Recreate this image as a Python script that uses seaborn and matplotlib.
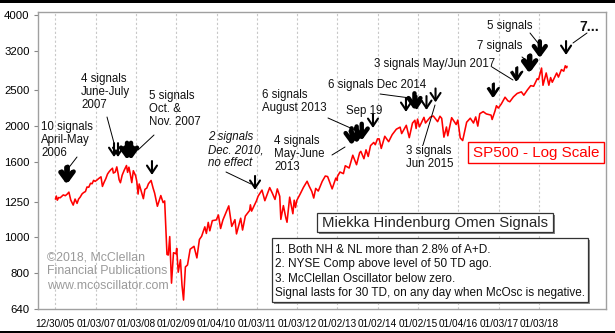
import numpy as np
import pandas as pd
import matplotlib
matplotlib.use("Agg")
import matplotlib.pyplot as plt
from matplotlib.lines import Line2D
from matplotlib.patches import Rectangle
import seaborn as sns

# ---------------- data ----------------
sp_dates = [
 "2006-01-03","2006-01-11","2006-01-20","2006-02-01","2006-02-15","2006-03-01","2006-03-15","2006-04-03","2006-04-21","2006-05-05","2006-05-22","2006-06-13","2006-06-30","2006-07-18","2006-08-01","2006-08-15","2006-09-01","2006-09-15","2006-10-02","2006-10-16","2006-11-01","2006-11-17","2006-12-01","2006-12-15","2006-12-29",
 "2007-01-16","2007-02-01","2007-02-20","2007-03-05","2007-03-20","2007-04-05","2007-04-20","2007-05-04","2007-05-18","2007-06-04","2007-06-12","2007-06-29","2007-07-13","2007-07-26","2007-08-03","2007-08-15","2007-08-31","2007-09-18","2007-10-09","2007-10-19","2007-10-31","2007-11-13","2007-11-26","2007-12-10","2007-12-31",
 "2008-01-10","2008-01-22","2008-02-01","2008-02-15","2008-03-10","2008-03-24","2008-04-10","2008-04-25","2008-05-19","2008-06-06","2008-06-20","2008-07-15","2008-08-01","2008-08-15","2008-09-05","2008-09-19","2008-10-10","2008-10-22","2008-11-04","2008-11-20","2008-12-08","2008-12-31",
 "2009-01-06","2009-01-20","2009-02-09","2009-02-23","2009-03-09","2009-03-26","2009-04-14","2009-05-08","2009-06-12","2009-07-08","2009-07-31","2009-08-20","2009-09-18","2009-10-02","2009-10-19","2009-11-02","2009-11-25","2009-12-31",
 "2010-01-19","2010-02-08","2010-03-01","2010-04-23","2010-05-20","2010-06-18","2010-07-02","2010-08-09","2010-08-26","2010-09-20","2010-10-29","2010-11-05","2010-11-16","2010-12-31",
 "2011-01-14","2011-02-18","2011-03-16","2011-04-29","2011-05-23","2011-06-16","2011-07-07","2011-07-29","2011-08-08","2011-08-31","2011-09-22","2011-10-03","2011-10-27","2011-11-25","2011-12-07","2011-12-19","2011-12-30",
 "2012-01-31","2012-02-29","2012-04-02","2012-04-20","2012-05-15","2012-06-01","2012-06-19","2012-07-12","2012-08-17","2012-09-14","2012-10-05","2012-11-15","2012-12-18","2012-12-31",
 "2013-01-02","2013-01-25","2013-02-25","2013-03-14","2013-04-18","2013-05-21","2013-06-24","2013-07-22","2013-08-02","2013-08-30","2013-09-18","2013-10-08","2013-10-29","2013-11-27","2013-12-11","2013-12-31",
 "2014-01-15","2014-02-03","2014-03-07","2014-04-11","2014-05-13","2014-06-20","2014-07-24","2014-08-07","2014-09-18","2014-10-15","2014-11-13","2014-12-05","2014-12-16","2014-12-29",
 "2015-01-15","2015-02-25","2015-03-11","2015-04-24","2015-05-21","2015-06-29","2015-07-20","2015-08-05","2015-08-25","2015-09-17","2015-09-29","2015-11-03","2015-12-14","2015-12-29",
 "2016-01-20","2016-02-11","2016-03-18","2016-04-20","2016-05-19","2016-06-08","2016-06-27","2016-07-15","2016-08-15","2016-09-12","2016-10-25","2016-11-04","2016-11-30","2016-12-13","2016-12-30",
 "2017-01-26","2017-03-01","2017-03-27","2017-04-13","2017-05-16","2017-06-19","2017-07-27","2017-08-18","2017-09-20","2017-10-20","2017-11-15","2017-12-18","2017-12-29",
 "2018-01-26","2018-02-08","2018-03-09","2018-04-02","2018-04-18","2018-05-03","2018-06-12","2018-06-28","2018-07-25","2018-08-15","2018-08-29","2018-09-10","2018-09-14",
]
sp_values = [
 1269,1294,1261,1282,1280,1292,1303,1297,1311,1326,1262,1223,1270,1236,1270,1285,1311,1322,1331,1369,1367,1401,1397,1427,1418,
 1431,1445,1459,1374,1410,1443,1484,1505,1522,1539,1493,1503,1552,1483,1433,1406,1474,1519,1565,1500,1549,1481,1407,1515,1468,
 1420,1310,1395,1349,1273,1349,1360,1397,1426,1360,1318,1214,1260,1298,1242,1255,899,896,1005,752,909,903,
 934,805,870,743,677,832,842,929,946,880,987,1007,1068,1025,1098,1042,1110,1115,
 1150,1057,1115,1217,1071,1117,1022,1127,1047,1142,1183,1225,1178,1258,
 1293,1343,1257,1364,1317,1267,1353,1292,1119,1219,1130,1099,1285,1159,1261,1205,1258,
 1312,1366,1419,1378,1331,1278,1357,1335,1418,1466,1461,1353,1447,1426,
 1462,1503,1488,1563,1541,1669,1573,1695,1710,1633,1726,1656,1772,1807,1782,1848,
 1848,1741,1878,1816,1897,1963,1988,1910,2011,1862,2039,2075,1972,2090,
 1992,2113,2040,2117,2131,2057,2128,2100,1868,1990,1884,2109,2021,2078,
 1859,1829,2050,2102,2040,2119,2001,2162,2190,2159,2143,2085,2199,2272,2239,
 2297,2396,2342,2329,2401,2453,2477,2426,2508,2575,2565,2690,2674,
 2873,2581,2787,2582,2708,2630,2786,2716,2846,2818,2914,2878,2905,
]

# signal arrows: date, price level at arrow tip, bold flag
signal_dates = ["2006-04-12","2006-04-24","2007-06-18","2007-07-24","2007-10-14","2007-11-19",
                "2008-05-27","2010-12-17","2013-05-10","2013-06-25","2013-08-10","2013-11-20",
                "2014-09-15","2014-12-01","2014-12-20","2015-03-20","2015-06-10",
                "2016-11-10","2016-11-20","2017-06-10","2017-06-20","2017-10-05","2017-10-15",
                "2018-01-10","2018-09-05"]
signal_levels = [1395,1400,1650,1650,1625,1625,
                 1476,1345,1779,1800,1830,1978,
                 2186,2213,2213,2213,2321,
                 2385,2395,2638,2650,2788,2800,3060,3118]
signal_bold = [1,1,0,0,1,1,
               0,0,1,1,1,0,
               0,1,0,0,0,
               0,0,0,0,1,1,1,0]

y_ticks = [640, 800, 1000, 1250, 1600, 2000, 2500, 3200, 4000]
x_tick_labels = ["12/30/05","01/03/07","01/03/08","01/02/09","01/04/10","01/03/11","01/03/12",
                 "01/02/13","01/02/14","01/02/15","01/04/16","01/03/17","01/03/18"]

# ---------------- figure ----------------
sns.set_style("white")
plt.rcParams["font.family"] = ["Liberation Sans", "DejaVu Sans"]

W, H = 615, 333
fig = plt.figure(figsize=(W / 100, H / 100), dpi=100)
ax = fig.add_axes([38 / W, 1 - 309 / H, (606 - 38) / W, (309 - 12) / H])

df = pd.DataFrame({"date": pd.to_datetime(sp_dates), "sp500": sp_values})
sns.lineplot(data=df, x="date", y="sp500", ax=ax, color="#ff0000", lw=1.15)

ax.set_yscale("log")
ax.set_ylim(640, 4075)
ax.set_yticks(y_ticks)
ax.set_yticklabels([str(v) for v in y_ticks])
ax.yaxis.set_minor_locator(matplotlib.ticker.NullLocator())

xt = pd.to_datetime(x_tick_labels, format="%m/%d/%y")
ax.set_xlim(pd.Timestamp("2005-07-29"), pd.Timestamp("2019-09-02"))
ax.set_xticks(xt)
ax.set_xticklabels(x_tick_labels)
ax.set_xlabel("")
ax.set_ylabel("")
ax.tick_params(axis="x", length=0, labelsize=7.2, pad=7, colors="black")
ax.tick_params(axis="y", length=3, width=0.8, color="#888888", labelsize=8.2, pad=3, left=True)
for lab in ax.get_yticklabels() + ax.get_xticklabels():
    lab.set_color("black")
for sp in ax.spines.values():
    sp.set_color("#a0a0a0")
    sp.set_linewidth(1.0)
ax.grid(False)
for d in xt:
    ax.axvline(d, color="#c8c8c8", lw=0.8, ls=(0, (2, 2)), zorder=0)

# arrows
for d, lv, b in zip(signal_dates, signal_levels, signal_bold):
    if b:
        props = dict(arrowstyle="->,head_length=0.45,head_width=0.33", lw=3.2, color="black",
                     shrinkA=0, shrinkB=0, mutation_scale=13)
        L = 12
    else:
        props = dict(arrowstyle="->,head_length=0.45,head_width=0.3", lw=1.5, color="black",
                     shrinkA=0, shrinkB=0, mutation_scale=12)
        L = 10
    ax.annotate("", xy=(pd.Timestamp(d), lv), xytext=(0, L), textcoords="offset points",
                arrowprops=props, zorder=5)

def fx(px):
    return px / W

def fy(py):
    return 1 - py / H

fs = 8.3
labels = [
    (41, 121, "10 signals\nApril-May\n2006", "normal", "normal", fs),
    (81, 73, "4 signals\nJune-July\n2007", "normal", "normal", fs),
    (149, 90, "5 signals\nOct. &\nNov. 2007", "normal", "normal", fs),
    (208, 131, "2 signals\nDec. 2010,\nno effect", "italic", "normal", fs),
    (274, 135, "4 signals\nMay-June\n2013", "normal", "normal", fs),
    (262, 89, "6 signals\nAugust 2013", "normal", "normal", fs),
    (346, 105, "Sep 19", "normal", "normal", fs),
    (328, 79, "6 signals Dec 2014", "normal", "normal", fs),
    (406, 145, "3 signals\nJun 2015", "normal", "normal", fs),
    (374, 58, "3 signals May/Jun 2017", "normal", "normal", fs),
    (477, 40, "7 signals", "normal", "normal", fs),
    (487, 20, "5 signals", "normal", "normal", fs),
    (579, 20, "7...", "normal", "bold", 10),
]
for x, y, t, st, wt, s in labels:
    fig.text(fx(x), fy(y), t, ha="left", va="top", fontsize=s, style=st, weight=wt,
             linespacing=1.12, color="#111111")

leaders = [((77, 157), (67, 170)), ((107, 117), (114, 143)), ((154, 135), (138, 150)),
           ((226, 172), (251, 184)), ((332, 155), (345, 147)), ((328, 118), (355, 130)),
           ((380, 94), (410, 98)), ((423, 145), (435, 105)), ((492, 67), (513, 80)),
           ((522, 57), (530, 63)), ((530, 33), (538, 43)), ((587, 33), (573, 43))]
for (x0, y0), (x1, y1) in leaders:
    fig.add_artist(Line2D([fx(x0), fx(x1)], [fy(y0), fy(y1)], color="black", lw=0.7,
                          transform=fig.transFigure))

# SP500 box
fig.patches.append(Rectangle((fx(468), fy(163)), (604 - 468) / W, (163 - 142) / H,
                             transform=fig.transFigure, facecolor="white", edgecolor="#ff0000", lw=1.0))
fig.text(fx(536), fy(152.5), "SP500 - Log Scale", ha="center", va="center", fontsize=10.9, color="#ff0000")

# title box with shadow
fig.patches.append(Rectangle((fx(319), fy(234)), (553 - 317) / W, (232 - 213) / H,
                             transform=fig.transFigure, facecolor="#808080", edgecolor="none"))
fig.patches.append(Rectangle((fx(317), fy(232)), (553 - 317) / W, (232 - 213) / H,
                             transform=fig.transFigure, facecolor="white", edgecolor="#333333", lw=0.9))
fig.text(fx(435), fy(222.5), "Miekka Hindenburg Omen Signals", ha="center", va="center", fontsize=10.7)

# criteria box
fig.patches.append(Rectangle((fx(274), fy(304)), (588 - 272) / W, (302 - 238) / H,
                             transform=fig.transFigure, facecolor="#909090", edgecolor="none"))
fig.patches.append(Rectangle((fx(272), fy(302)), (588 - 272) / W, (302 - 238) / H,
                             transform=fig.transFigure, facecolor="white", edgecolor="#333333", lw=0.9))
crit = ["1. Both NH & NL more than 2.8% of A+D.",
        "2. NYSE Comp above level of 50 TD ago.",
        "3. McClellan Oscillator below zero.",
        "Signal lasts for 30 TD, on any day when McOsc is negative."]
for i, c in enumerate(crit):
    fig.text(fx(275), fy(250 + i * 14.3), c, ha="left", va="center", fontsize=8.5, color="#111111")

# copyright
for i, c in enumerate(["\u00a92018, McClellan", "Financial Publications", "www.mcoscillator.com"]):
    fig.text(fx(47), fy(257 + i * 14.5), c, ha="left", va="center", fontsize=8.9, color="#9a9a9a")

# black frame bars
fig.patches.append(Rectangle((0, fy(3)), 1, 3 / H, transform=fig.transFigure, facecolor="black", edgecolor="none"))
fig.patches.append(Rectangle((0, 0), 1, 2 / H, transform=fig.transFigure, facecolor="black", edgecolor="none"))

fig.savefig("out.png", dpi=100)
